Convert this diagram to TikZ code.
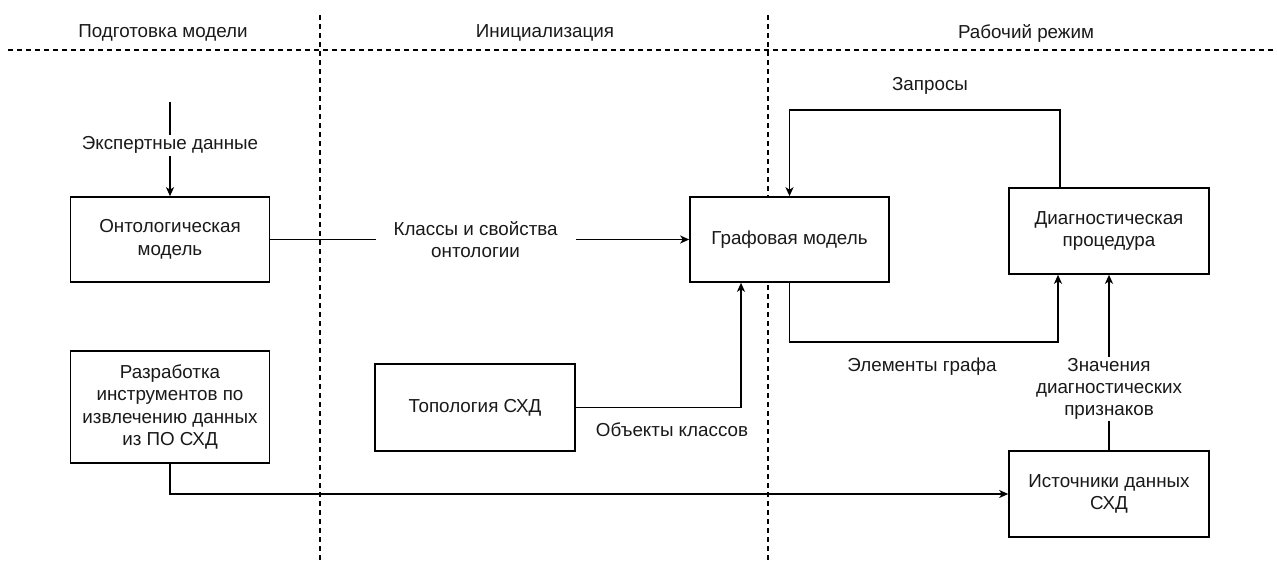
\documentclass[tikz,border=0pt]{standalone}
\usepackage{fontspec}
\setmainfont{Liberation Sans}
\usetikzlibrary{arrows.meta,calc}
\begin{document}
\begin{tikzpicture}[x=1pt,y=-1pt,
  every node/.style={font=\fontsize{18.8}{22.4}\selectfont, align=center, text=black!90},
  box/.style={draw, fill=white, line width=1.6pt, minimum width=199pt, inner sep=0pt},
  lbl/.style={fill=white, inner sep=2pt},
  conn/.style={line width=1.6pt},
  arr/.style={conn, -{Stealth[length=9pt,width=8pt,inset=2.5pt]}},
  sep/.style={line width=1.3pt, dash pattern=on 5pt off 4pt}]
\useasboundingbox (0,0) rectangle (1277,562);
% separators
\draw[sep] (8,50) -- (1277,50);
\draw[sep] (320,15) -- (320,562);
\draw[sep] (768,15) -- (768,562);
% headers
\node (h1) at (163,33) {Подготовка модели};
\node (h2) at (545,33) {Инициализация};
\node (h3) at (1026,33) {Рабочий режим};
% boxes
\node[box, minimum height=85pt] (onto) at (170,239.5) {Онтологическая\\модель};
\node[box, minimum height=85pt] (graph) at (789.5,239.5) {Графовая модель};
\node[box, minimum width=200pt, minimum height=86pt] (diag) at (1109,231) {Диагностическая\\процедура};
\node[box, minimum width=200pt, minimum height=86pt] (src) at (1109,494) {Источники данных\\СХД};
\node[box, minimum width=200pt, minimum height=87pt] (topo) at (475,407.5) {Топология СХД};
\node[box, minimum height=112pt] (dev) at (170,407) {Разработка\\инструментов по\\извлечению данных\\из ПО СХД};
% connectors
\coordinate (ex) at (170,102);
\draw[arr] (ex) -- node[lbl, pos=0.46] (exl) {Экспертные данные} (onto.north);
\draw[arr] (onto.east) -- node[lbl, inner xsep=18pt, pos=0.49] (cls) {Классы и свойства\\онтологии} (graph.west);
\coordinate (q) at (1060,110);
\draw[arr] (diag.north -| q) -- (q) -| (graph.north);
\node (ql) at (930,86) {Запросы};
\coordinate (e) at (1058,342);
\draw[arr] (graph.south) |- (e) -- (diag.south -| e);
\node (el) at (922,367) {Элементы графа};
\draw[arr] (src.north) -- node[lbl, pos=0.35, inner sep=1pt] (vl) {Значения\\диагностических\\признаков} (diag.south);
\coordinate (t) at (741,407.5);
\draw[arr] (topo.east) -- (t) -- (graph.south -| t);
\node (tl) at (672,430) {Объекты классов};
\draw[arr] (dev.south) |- (src.west);
\end{tikzpicture}
\end{document}
